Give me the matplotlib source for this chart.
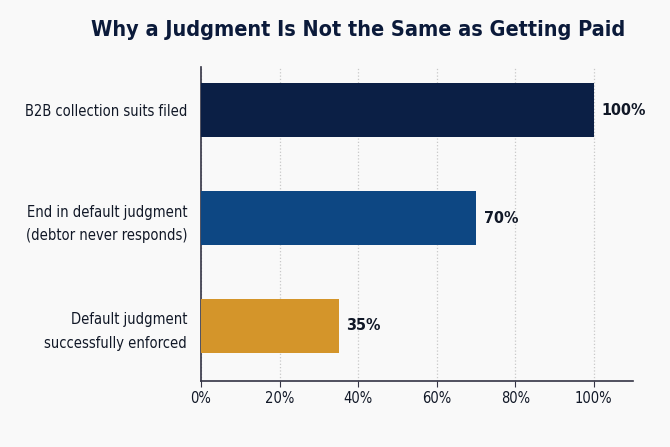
import matplotlib.pyplot as plt
from matplotlib.ticker import PercentFormatter

plt.rcParams['font.family'] = ['DejaVu Sans']
plt.rcParams['font.stretch'] = 'condensed'

categories = ['B2B collection suits filed',
              'End in default judgment\n(debtor never responds)',
              'Default judgment\nsuccessfully enforced']
values = [100, 70, 35]
colors = ['#0b1f45', '#0d4783', '#d4952a']
xticks = [0, 20, 40, 60, 80, 100]

fig = plt.figure(figsize=(6.7, 4.47), dpi=100, facecolor='#f9f9f9')
ax = fig.add_axes([0.30, 0.148, 0.645, 0.702])
ax.set_facecolor('#f9f9f9')

ypos = range(len(categories))
ax.barh(ypos, values, height=0.5, color=colors, zorder=3)

for y, v in zip(ypos, values):
    ax.text(v + 2, y, f'{v}%', va='center', ha='left', fontsize=11.5,
            fontweight='bold', color='#111827')

ax.set_yticks(list(ypos))
ax.set_yticklabels(categories, fontsize=10.5, color='#111827', linespacing=1.7)
ax.tick_params(axis='y', length=0, pad=10)
ax.set_ylim(2.51, -0.4)

ax.set_xlim(0, 110)
ax.set_xticks(xticks)
ax.xaxis.set_major_formatter(PercentFormatter(decimals=0))
ax.tick_params(axis='x', labelsize=10.5, colors='#111827', length=4, color='#333344')
ax.grid(axis='x', linestyle=':', color='#c8c8c8', linewidth=0.9, zorder=0)

for s in ['top', 'right']:
    ax.spines[s].set_visible(False)
for s in ['left', 'bottom']:
    ax.spines[s].set_color('#333344')
    ax.spines[s].set_linewidth(1.2)

fig.text(0.535, 0.933, 'Why a Judgment Is Not the Same as Getting Paid',
         ha='center', va='center', fontsize=15.5, fontweight='bold', color='#0b1a3a')

fig.savefig('out.png', dpi=100, facecolor=fig.get_facecolor())
